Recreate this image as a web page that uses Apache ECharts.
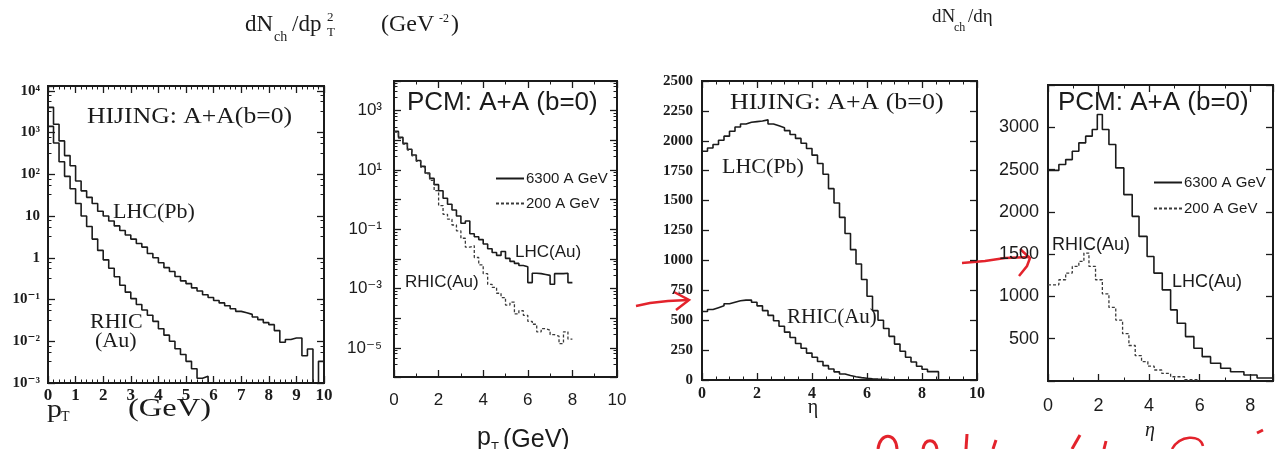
<!DOCTYPE html>
<html><head><meta charset="utf-8">
<script src="https://cdn.jsdelivr.net/npm/echarts@6/dist/echarts.min.js"></script>
<style>html,body{margin:0;padding:0;background:#fff}#c{width:1279px;height:449px}</style>
</head><body><div id="c"></div>
<script>
// ---------------- DATA ----------------
// Panel 1: HIJING A+A (b=0), dN/dpT^2 vs pT, bins of 0.2 GeV from 0
const p1BinStart = 0, p1BinWidth = 0.2;
const p1LhcPb = [4000,1580,630,280,160, 69,40,28,20,13, 10,7.6,5.8,4.5,3.5, 2.8,2.2,1.8,1.26,1.0,
  0.76,0.58,0.47,0.355,0.28, 0.24,0.19,0.16,0.13,0.112, 0.095,0.083,0.071,0.06,0.052,
  0.048,0.044,0.038,0.033,0.028, 0.025,0.018,0.0095,0.011,0.012, 0.012,0.0045,0.0065,0.001,0.0033];
const p1RhicAu = [1400,560,200,89,45, 20,10,5.6,2.8,1.5, 0.89,0.56,0.35,0.22,0.15,
  0.105,0.076,0.056,0.042,0.03, 0.02,0.014,0.01,0.0066,0.0048, 0.0033,0.0022,0.0013,0.00145,0.001];
// Panel 2: PCM A+A (b=0), bins of 0.2 GeV from 0
const p2BinStart = 0, p2BinWidth = 0.2;
const p2Lhc6300 = [200,126,79,50,32, 21,13.2,7.9,5.2,3.2, 2.0,1.12,0.7,0.45,0.28,
  0.16,0.19,0.071,0.056,0.045, 0.032,0.022,0.0166,0.0132,0.0178, 0.0105,0.0083,0.0071,0.006,0.0055,
  0.0016,0.0033,0.0032,0.003,0.0028, 0.0014,0.0032,0.0032,0.0033,0.0016];
const p2Rhic200 = [190,120,75,47,30, 19.5,12.3,7.4,4.5,2.0, 0.63,0.32,0.22,0.14,0.089,
  0.05,0.025,0.028,0.0112,0.0063, 0.0032,0.0014,0.0011,0.0007,0.0005, 0.00028,0.00035,0.00014,0.00018,0.000126,
  0.000079,0.000063,0.000035,0.000045,0.00004, 0.000028,0.000025,0.000014,0.000035,0.00002];
// Panel 3: HIJING dN/deta, bins of 0.2 from 0
const p3BinStart = 0, p3BinWidth = 0.2;
const p3LhcPb = [1913,1940,1969,2005,2039, 2080,2115,2140,2155,2160, 2165,2175,2140,2125,2110,
  2085,2053,2020,1980,1935, 1880,1810,1720,1600,1480, 1360,1225,1090,970,840,
  700,580,500,430,365, 300,240,190,150,115, 90,70,70,0];
const p3RhicAu = [573,590,605,620,638, 650,662,668,668,650, 620,580,540,495,450,
  400,355,305,265,225, 190,155,120,92,68, 50,37,27,20,14, 10,7,5,3,2,1];
// Panel 4: PCM dN/deta, explicit bin edges
const p4LhcEdges = [0,0.43,0.7,0.96,1.22,1.49,1.75,1.95,2.15,2.41,2.68,3.0,3.33,3.6,3.92,4.19,4.52,4.85,5.11,5.44,5.77,6.1,6.43,6.83,7.22,7.75,8.27,8.9];
const p4Lhc6300 = [2490,2560,2618,2717,2816, 2895,2974,3152,2974,2796, 2520,2204,1947,1710,1473,
  1276,1078,841,683,525, 387,288,209,150,110, 71,35];
const p4RhicEdges = [0,0.43,0.7,0.96,1.22,1.42,1.62,1.88,2.15,2.41,2.68,2.95,3.2,3.45,3.7,3.95,4.2,4.5,4.85,5.4,6.0];
const p4Rhic200 = [1137,1197,1276,1355,1414, 1513,1355,1197,1030,870, 720,560,420,300,230,
  175,130,90,50,15];
// Tick label sets (powers of ten that carry a label)
const p1YExps = [4,3,2,1,0,-1,-2,-3];
const p2YExps = [3,1,-1,-3,-5];

// ---------------- HELPERS ----------------
function histFixed(start, width, vals) {
  const d = vals.map((v, i) => [+(start + i * width).toFixed(4), v]);
  d.push([+(start + vals.length * width).toFixed(4), vals[vals.length - 1]]);
  return d;
}
function histEdges(edges, vals) {
  const d = vals.map((v, i) => [edges[i], v]);
  d.push([edges[vals.length], vals[vals.length - 1]]);
  return d;
}
const SUP = {'-':'\u207B','0':'\u2070','1':'\u00B9','2':'\u00B2','3':'\u00B3','4':'\u2074','5':'\u2075','6':'\u2076','7':'\u2077','8':'\u2078','9':'\u2079'};
function pow10Label(v, allowed) {
  const e = Math.log10(v), r = Math.round(e);
  if (Math.abs(e - r) > 1e-6 || allowed.indexOf(r) < 0) return '';
  if (allowed === p1YExps && r === 0) return '1';
  if (allowed === p1YExps && r === 1) return '10';
  return '10' + String(r).split('').map(c => SUP[c]).join('');
}

const SERIF = '"Liberation Serif","DejaVu Serif",serif';
const SANS = '"Liberation Sans","DejaVu Sans",sans-serif';
const INK = '#1b1b1b';
const RED = '#e3232c';

function xAx(grid, pos, opt) {
  const show = pos === 'bottom';
  return Object.assign({
    type: 'value', gridIndex: grid, position: pos,
    axisLine: {show: false, onZero: false},
    axisTick: {show: true, inside: true, length: 7, lineStyle: {color: INK, width: 1.3}},
    minorTick: {show: true, splitNumber: 2, length: 3.5, lineStyle: {color: INK, width: 1}},
    splitLine: {show: false}, minorSplitLine: {show: false}
  }, opt, {axisLabel: Object.assign({show: show, color: INK}, show ? opt.axisLabel : {})});
}
function yAx(grid, pos, opt) {
  const show = pos === 'left';
  return Object.assign({
    gridIndex: grid, position: pos,
    axisLine: {show: false, onZero: false},
    axisTick: {show: true, inside: true, length: 7, lineStyle: {color: INK, width: 1.3}},
    minorTick: {show: true, splitNumber: 4, length: 3.5, lineStyle: {color: INK, width: 1}},
    splitLine: {show: false}, minorSplitLine: {show: false}
  }, opt, {axisLabel: Object.assign({show: show, color: INK}, show ? opt.axisLabel : {})});
}

const p1X = {min: 0, max: 10, interval: 1, minorTick: {show: true, splitNumber: 5, length: 3.5, lineStyle:{color: INK}},
  axisLabel: {fontFamily: SERIF, fontSize: 17, fontWeight: 'bold', margin: 4}};
const p1Y = {type: 'log', logBase: 10, min: 0.001, max: 13000, splitNumber: 7,
  axisLabel: {fontFamily: SERIF, fontSize: 15, fontWeight: 'bold', margin: 8, formatter: v => pow10Label(v, p1YExps)}};
const p2X = {min: 0, max: 10, interval: 2, minorTick: {show: true, splitNumber: 2, length: 3.5, lineStyle:{color: INK}},
  axisLabel: {fontFamily: SANS, fontSize: 17, margin: 15}};
const p2Y = {type: 'log', logBase: 10, min: 1.05e-6, max: 10000, splitNumber: 10,
  minorTick: {show: true, splitNumber: 5, length: 3.5, lineStyle:{color: INK}},
  axisLabel: {fontFamily: SANS, fontSize: 17, margin: 12, formatter: v => pow10Label(v, p2YExps)}};
const p3X = {min: 0, max: 10, interval: 2, minorTick: {show: true, splitNumber: 4, length: 3.5, lineStyle:{color: INK}},
  axisLabel: {fontFamily: SERIF, fontSize: 16, fontWeight: 'bold', margin: 6}};
const p3Y = {type: 'value', min: 0, max: 2500, interval: 250, minorTick: {show: false},
  axisLabel: {fontFamily: SERIF, fontSize: 15, fontWeight: 'bold', margin: 9, formatter: v => String(v)}};
const p4X = {min: 0, max: 8.9, interval: 2, minorTick: {show: true, splitNumber: 2, length: 3.5, lineStyle:{color: INK}},
  axisLabel: {fontFamily: SANS, fontSize: 18, margin: 16, formatter: v => (v % 2 === 0 ? String(v) : '')}};
const p4Y = {type: 'value', min: 0, max: 3500, interval: 500, minorTick: {show: false},
  axisLabel: {fontFamily: SANS, fontSize: 18, margin: 9, formatter: v => (v === 0 || v >= 3500 ? '' : String(v))}};

function line(name, gi, data, dashed) {
  return {
    name: name, type: 'line', xAxisIndex: gi * 2, yAxisIndex: gi * 2, step: 'end',
    symbol: 'none', showSymbol: false, data: data, animation: false, clip: true,
    lineStyle: dashed ? {color: '#3a3a3a', width: 1.3, type: [3, 2]} : {color: INK, width: 1.6},
    itemStyle: {color: dashed ? '#3a3a3a' : INK}
  };
}

function T(x, y, text, size, family, extra, sx) {
  return {type: 'text', x: x, y: y, scaleX: sx || 1, silent: true, style: Object.assign({
    text: text, fontSize: size, fontFamily: family, fill: INK, align: 'left', verticalAlign: 'middle'}, extra || {})};
}

const graphics = [
  // panel 1 texts
  T(87, 117, 'HIJING: A+A(b=0)', 24, SERIF, null, 1.07),
  T(113, 212, 'LHC(Pb)', 22, SERIF),
  T(90, 322, 'RHIC', 22, SERIF),
  T(95, 341, '(Au)', 22, SERIF),
  T(47, 410, 'p', 26, SERIF, null, 1.15),
  T(61, 417, 'T', 14, SERIF),
  T(128, 409, '(GeV)', 25, SERIF, null, 1.3),
  // panel 2 texts
  T(407, 103, 'PCM: A+A (b=0)', 25, SANS, null, 1.04),
  T(515, 252, 'LHC(Au)', 17, SANS),
  T(405, 282, 'RHIC(Au)', 17, SANS),
  T(477, 438, 'p', 25, SANS),
  T(491, 447, 'T', 13, SANS),
  T(503, 440, '(GeV)', 25, SANS),
  // panel 3 texts
  T(730, 103, 'HIJING: A+A (b=0)', 24, SERIF, null, 1.08),
  T(722, 167, 'LHC(Pb)', 22, SERIF),
  T(787, 317, 'RHIC(Au)', 21, SERIF),
  T(813, 408, '\u03B7', 20, SERIF, {align: 'center'}),
  // panel 4 texts
  T(1058, 103, 'PCM: A+A (b=0)', 25, SANS, null, 1.04),
  T(1052, 245, 'RHIC(Au)', 18, SANS),
  T(1172, 282, 'LHC(Au)', 18, SANS),
  T(1150, 431, '\u03B7', 20, SERIF, {align: 'center', fontStyle: 'italic'}),
  // top titles
  T(245, 25, 'dN', 23, SERIF),
  T(274, 37, 'ch', 14, SERIF),
  T(292, 25, '/dp', 23, SERIF),
  T(327, 18, '2', 13, SERIF),
  T(327, 33, 'T', 13, SERIF),
  T(381, 25, '(GeV', 24, SERIF),
  T(439, 19, '-2', 12, SERIF),
  T(451, 25, ')', 24, SERIF),
  T(932, 17, 'dN', 19, SERIF),
  T(954, 28, 'ch', 12, SERIF),
  T(968, 17, '/d\u03B7', 19, SERIF),
  // red hand annotations
  {type: 'polyline', silent: true, shape: {points: [[636,306],[650,303],[668,301],[688,300]]}, style: {stroke: RED, lineWidth: 2.5, fill: null}},
  {type: 'polyline', silent: true, shape: {points: [[674,292],[689,300],[676,310]]}, style: {stroke: RED, lineWidth: 2.5, fill: null}},
  {type: 'polyline', silent: true, shape: {points: [[962,263],[985,261],[1005,258],[1030,257]]}, style: {stroke: RED, lineWidth: 2.5, fill: null}},
  {type: 'polyline', silent: true, shape: {points: [[1020,249],[1030,258],[1027,266],[1019,276]]}, style: {stroke: RED, lineWidth: 2.5, fill: null}},
  {type: 'bezierCurve', silent: true, shape: {x1: 878, y1: 449, x2: 897, y2: 449, cpx1: 880, cpy1: 432, cpx2: 896, cpy2: 432}, style: {stroke: RED, lineWidth: 3, fill: null}},
  {type: 'bezierCurve', silent: true, shape: {x1: 923, y1: 449, x2: 937, y2: 449, cpx1: 925, cpy1: 438, cpx2: 935, cpy2: 438}, style: {stroke: RED, lineWidth: 3, fill: null}},
  {type: 'line', silent: true, shape: {x1: 967, y1: 434, x2: 966, y2: 449}, style: {stroke: RED, lineWidth: 3}},
  {type: 'line', silent: true, shape: {x1: 996, y1: 440, x2: 993, y2: 449}, style: {stroke: RED, lineWidth: 3}},
  {type: 'line', silent: true, shape: {x1: 1080, y1: 435, x2: 1072, y2: 449}, style: {stroke: RED, lineWidth: 3}},
  {type: 'line', silent: true, shape: {x1: 1106, y1: 441, x2: 1104, y2: 449}, style: {stroke: RED, lineWidth: 3}},
  {type: 'bezierCurve', silent: true, shape: {x1: 1172, y1: 449, x2: 1203, y2: 446, cpx1: 1180, cpy1: 435, cpx2: 1200, cpy2: 434}, style: {stroke: RED, lineWidth: 2.5, fill: null}},
  {type: 'line', silent: true, shape: {x1: 1257, y1: 433, x2: 1263, y2: 430}, style: {stroke: RED, lineWidth: 3}}
];

const legendCommon = {orient: 'vertical', itemWidth: 28, itemHeight: 14, selectedMode: false,
  itemStyle: {opacity: 0}, textStyle: {fontFamily: SANS, fontSize: 15, color: INK, padding: [0, 0, 0, -3]}};

const chart = echarts.init(document.getElementById('c'), null, {renderer: 'canvas'});
chart.setOption({
  backgroundColor: '#ffffff',
  animation: false,
  grid: [
    {left: 48, top: 86, width: 276, height: 297, show: true, borderColor: INK, borderWidth: 2, backgroundColor: 'transparent'},
    {left: 394, top: 81, width: 223, height: 296, show: true, borderColor: INK, borderWidth: 2, backgroundColor: 'transparent'},
    {left: 702, top: 81, width: 275, height: 299, show: true, borderColor: INK, borderWidth: 2, backgroundColor: 'transparent'},
    {left: 1048, top: 85, width: 225, height: 296, show: true, borderColor: INK, borderWidth: 2, backgroundColor: 'transparent'}
  ],
  xAxis: [
    xAx(0, 'bottom', p1X), xAx(0, 'top', p1X),
    xAx(1, 'bottom', p2X), xAx(1, 'top', p2X),
    xAx(2, 'bottom', p3X), xAx(2, 'top', p3X),
    xAx(3, 'bottom', p4X), xAx(3, 'top', p4X)
  ],
  yAxis: [
    yAx(0, 'left', p1Y), yAx(0, 'right', p1Y),
    yAx(1, 'left', p2Y), yAx(1, 'right', p2Y),
    yAx(2, 'left', p3Y), yAx(2, 'right', p3Y),
    yAx(3, 'left', p4Y), yAx(3, 'right', p4Y)
  ],
  legend: [
    Object.assign({data: ['6300 A GeV', '200 A GeV'], left: 490, top: 166, itemGap: 10}, legendCommon),
    Object.assign({data: ['6300 A GeV', '200 A GeV'], left: 1148, top: 170, itemGap: 11}, legendCommon)
  ],
  series: [
    line('LHC(Pb)', 0, histFixed(p1BinStart, p1BinWidth, p1LhcPb), false),
    line('RHIC(Au)', 0, histFixed(p1BinStart, p1BinWidth, p1RhicAu), false),
    line('6300 A GeV', 1, histFixed(p2BinStart, p2BinWidth, p2Lhc6300), false),
    line('200 A GeV', 1, histFixed(p2BinStart, p2BinWidth, p2Rhic200), true),
    line('LHC(Pb) ', 2, histFixed(p3BinStart, p3BinWidth, p3LhcPb), false),
    line('RHIC(Au) ', 2, histFixed(p3BinStart, p3BinWidth, p3RhicAu), false),
    line('6300 A GeV', 3, histEdges(p4LhcEdges, p4Lhc6300), false),
    line('200 A GeV', 3, histEdges(p4RhicEdges, p4Rhic200), true)
  ],
  graphic: graphics
});
</script></body></html>
